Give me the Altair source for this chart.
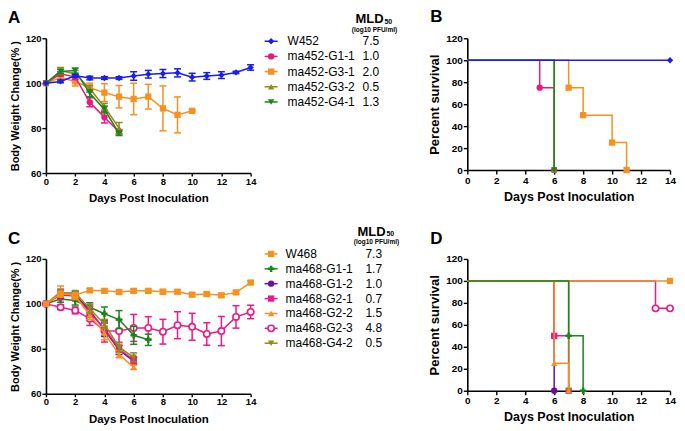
import altair as alt
import pandas as pd

FONT = "Liberation Sans"
DAYS = list(range(15))

# ---------------- Panel A : body weight, 452 group ----------------
A_SERIES = ["W452", "ma452-G1-1", "ma452-G3-1", "ma452-G3-2", "ma452-G4-1"]
A_MLD = ["7.5", "1.0", "2.0", "0.5", "1.3"]
A_COLORS = ["#1a1ee8", "#e8197f", "#f7901e", "#8c8c1e", "#19861b"]
A_SHAPES = ["diamond", "circle", "square", "triangle-up", "triangle-down"]
A_MEAN = {
    "W452": [100, 100.8, 103.3, 102.3, 102.3, 102.3, 103.2, 104.0, 104.3, 104.6, 102.7, 103.2, 103.6, 104.8, 107.0],
    "ma452-G1-1": [100, 104.2, 102.7, 91.5, 84.8, 78.4],
    "ma452-G3-1": [100, 102.5, 100.8, 98.0, 95.8, 94.0, 93.0, 94.0, 88.8, 85.9, 87.7],
    "ma452-G3-2": [100, 105.5, 104.2, 97.5, 89.5, 80.0],
    "ma452-G4-1": [100, 105.2, 105.6, 95.5, 88.3, 77.7],
}
A_ERR = {
    "W452": [0, 0.6, 0.6, 0.8, 0.6, 0.6, 1.9, 1.7, 1.8, 1.8, 1.7, 1.5, 1.5, 0.5, 1.2],
    "ma452-G1-1": [0, 1.0, 1.0, 2.0, 2.5, 1.0],
    "ma452-G3-1": [0, 1.5, 2.0, 2.0, 4.0, 5.0, 7.0, 5.5, 10.0, 8.0, 0.5],
    "ma452-G3-2": [0, 1.5, 1.5, 1.5, 1.5, 2.5],
    "ma452-G4-1": [0, 1.0, 1.2, 1.5, 1.5, 1.0],
}
A_DRAW_ORDER = ["ma452-G3-1", "ma452-G1-1", "ma452-G3-2", "ma452-G4-1", "W452"]

# ---------------- Panel B : survival, 452 group ----------------
B_T = {
    "W452": [0, 14],
    "ma452-G1-1": [0, 5, 6],
    "ma452-G3-1": [0, 7, 8, 10, 11],
    "ma452-G3-2": [0, 6],
    "ma452-G4-1": [0, 6],
}
B_S = {
    "W452": [100, 100],
    "ma452-G1-1": [100, 75, 0],
    "ma452-G3-1": [100, 75, 50, 25, 0],
    "ma452-G3-2": [100, 0],
    "ma452-G4-1": [100, 0],
}
B_DRAW_ORDER = ["ma452-G1-1", "ma452-G3-1", "ma452-G3-2", "ma452-G4-1", "W452"]

# ---------------- Panel C : body weight, 468 group ----------------
C_SERIES = ["W468", "ma468-G1-1", "ma468-G1-2", "ma468-G2-1", "ma468-G2-2", "ma468-G2-3", "ma468-G4-2"]
C_MLD = ["7.3", "1.7", "1.0", "0.7", "1.5", "4.8", "0.5"]
C_COLORS = ["#f7901e", "#19861b", "#6a0fa0", "#ea1a86", "#f7901e", "#ea1a86", "#8c8c1e"]
C_SHAPES = ["square", "cross", "circle", "square", "triangle-up", "circle", "triangle-down"]
C_FILLED = [True, True, True, True, True, False, True]
C_MEAN = {
    "W468": [100, 104.5, 104.0, 106.0, 105.8, 105.3, 105.8, 105.8, 105.4, 105.4, 104.1, 104.4, 103.8, 105.1, 109.5],
    "ma468-G1-1": [100, 102.2, 101.5, 98.5, 95.6, 93.0, 86.0, 84.0],
    "ma468-G1-2": [100, 104.5, 104.0, 97.0, 88.5, 79.5, 74.5],
    "ma468-G2-1": [100, 104.0, 103.5, 96.0, 89.0, 80.0, 75.0],
    "ma468-G2-2": [100, 105.5, 103.5, 95.0, 87.0, 77.5, 71.8],
    "ma468-G2-3": [100, 98.5, 97.1, 93.4, 88.0, 87.9, 89.3, 89.3, 87.6, 90.5, 89.8, 86.6, 87.9, 94.2, 96.4],
    "ma468-G4-2": [100, 104.8, 105.0, 97.8, 91.0, 80.7, 76.2],
}
C_ERR = {
    "W468": [0, 1.0, 1.0, 0.8, 0.8, 0.8, 0.8, 0.8, 1.0, 0.8, 0.8, 0.8, 0.8, 0.8, 0.8],
    "ma468-G1-1": [0, 1.5, 2.0, 2.0, 3.0, 4.0, 4.0, 2.5],
    "ma468-G1-2": [0, 2.0, 1.5, 2.0, 3.0, 2.0, 1.5],
    "ma468-G2-1": [0, 2.0, 1.5, 2.0, 3.0, 1.5, 1.5],
    "ma468-G2-2": [0, 2.5, 1.5, 2.0, 3.0, 1.5, 1.0],
    "ma468-G2-3": [0, 1.0, 1.5, 3.0, 5.0, 5.0, 6.0, 5.0, 5.5, 6.0, 6.0, 5.0, 6.5, 5.0, 3.0],
    "ma468-G4-2": [0, 1.5, 1.0, 2.0, 2.0, 2.0, 2.0],
}
C_DRAW_ORDER = ["ma468-G2-3", "ma468-G1-1", "ma468-G1-2", "ma468-G2-1", "ma468-G2-2", "ma468-G4-2", "W468"]

# ---------------- Panel D : survival, 468 group ----------------
D_T = {
    "W468": [0, 14],
    "ma468-G1-1": [0, 7, 8],
    "ma468-G1-2": [0, 6],
    "ma468-G2-1": [0, 6, 7],
    "ma468-G2-2": [0, 6, 7],
    "ma468-G2-3": [0, 13, 14],
    "ma468-G4-2": [0, 7],
}
D_S = {
    "W468": [100, 100],
    "ma468-G1-1": [100, 50, 0],
    "ma468-G1-2": [100, 0],
    "ma468-G2-1": [100, 50, 0],
    "ma468-G2-2": [100, 25, 0],
    "ma468-G2-3": [100, 75, 75],
    "ma468-G4-2": [100, 0],
}
D_DRAW_ORDER = ["ma468-G2-3", "ma468-G1-2", "ma468-G2-1", "ma468-G4-2", "ma468-G2-2", "W468", "ma468-G1-1"]

# ---------------- layout ----------------
W_WEIGHT = 205
W_SURV = 203
H_WEIGHT = 135
H_SURV = 132
ONE = pd.DataFrame({"k": [0]})


def x_weight(field):
    return alt.X(f"{field}:Q", scale=alt.Scale(domain=[0, 14], nice=False, zero=False),
                 axis=alt.Axis(values=list(range(0, 15, 2)), title="Days Post Inoculation",
                               labelFontSize=9.5, titleFontSize=11.5, tickSize=3, labelPadding=0,
                               titlePadding=7, labelFlush=False))


def y_weight(field):
    return alt.Y(f"{field}:Q", scale=alt.Scale(domain=[60, 120], nice=False, zero=False),
                 axis=alt.Axis(values=[60, 80, 100, 120], title="Body Weight Change(% )",
                               labelFontSize=9.5, titleFontSize=11, tickSize=4, labelPadding=1,
                               titlePadding=5))


def x_surv(field):
    return alt.X(f"{field}:Q", scale=alt.Scale(domain=[0, 14], nice=False, zero=False),
                 axis=alt.Axis(values=list(range(0, 15, 2)), title="Days Post Inoculation",
                               labelFontSize=10, titleFontSize=12.5, tickSize=4, labelPadding=1,
                               titlePadding=5, labelFlush=False))


def y_surv(field):
    return alt.Y(f"{field}:Q", scale=alt.Scale(domain=[0, 120], nice=False, zero=False),
                 axis=alt.Axis(values=[0, 20, 40, 60, 80, 100, 120], title="Percent survival",
                               labelFontSize=10, titleFontSize=13, tickSize=4, labelPadding=1,
                               titlePadding=4))


def text_at(txt, x, y, size, weight="normal", align="left", baseline="middle"):
    return alt.Chart(ONE).mark_text(text=txt, font=FONT, fontSize=size, fontWeight=weight,
                                    align=align, baseline=baseline, color="black").encode(
        x=alt.value(x), y=alt.value(y))


def point_props(shape, color, filled):
    pm = dict(shape=shape, color=color, size=40, opacity=1)
    if filled:
        pm.update(filled=True)
    else:
        pm.update(filled=False, strokeWidth=1.6, fill="white")
    return pm


def weight_panel(series, colors, shapes, filled, means, errs, order, letter, leg):
    layers = []
    for name in order:
        i = series.index(name)
        c = colors[i]
        m = means[name]
        e = errs[name]
        df = pd.DataFrame({"day": DAYS[:len(m)], "mean": m,
                           "lo": [a - b for a, b in zip(m, e)], "hi": [a + b for a, b in zip(m, e)],
                           "err": e})
        dfe = df[df["err"] > 0]
        base = alt.Chart(dfe)
        layers.append(base.mark_rule(color=c, strokeWidth=1.5).encode(
            x=x_weight("day"), y=y_weight("lo"), y2="hi"))
        layers.append(base.mark_tick(color=c, orient="horizontal", size=7, thickness=1.5, opacity=1).encode(
            x=x_weight("day"), y=y_weight("lo")))
        layers.append(base.mark_tick(color=c, orient="horizontal", size=7, thickness=1.5, opacity=1).encode(
            x=x_weight("day"), y=y_weight("hi")))
        layers.append(alt.Chart(df).mark_line(color=c, strokeWidth=1.5).encode(
            x=x_weight("day"), y=y_weight("mean")))
        layers.append(alt.Chart(df).mark_point(**point_props(shapes[i], c, filled[i])).encode(
            x=x_weight("day"), y=y_weight("mean")))

    layers.append(text_at(letter, leg["letter_x"], leg["letter_y"], 17, "bold"))
    layers.append(text_at("MLD", leg["mld_x"], leg["mld_y"], 13, "bold"))
    layers.append(text_at("50", leg["mld_x"] + 29, leg["mld_y"] + 2.5, 7, "bold"))
    layers.append(text_at("(log10 PFU/ml)", leg["mld_x"] + 19, leg["mld_y"] + 10.5, 6.5, "bold",
                          align="center"))
    for r, name in enumerate(series):
        yy = leg["row0"] + r * leg["step"]
        c = colors[r]
        layers.append(alt.Chart(ONE).mark_rule(color=c, strokeWidth=1.5).encode(
            x=alt.value(leg["mx0"]), x2=alt.value(leg["mx1"]), y=alt.value(yy)))
        layers.append(alt.Chart(ONE).mark_point(**point_props(shapes[r], c, filled[r])).encode(
            x=alt.value((leg["mx0"] + leg["mx1"]) / 2), y=alt.value(yy)))
        layers.append(text_at(name, leg["lab_x"], yy, 12))
        layers.append(text_at(leg["mld"][r], leg["val_x"], yy, 12))
    return alt.layer(*layers).properties(width=W_WEIGHT, height=H_WEIGHT)


def surv_panel(series, colors, shapes, filled, ts, ss, order, letter, letter_y):
    layers = []
    for name in order:
        i = series.index(name)
        c = colors[i]
        df = pd.DataFrame({"t": ts[name], "s": ss[name]})
        layers.append(alt.Chart(df).mark_line(color=c, strokeWidth=1.5, interpolate="step-after").encode(
            x=x_surv("t"), y=y_surv("s")))
        layers.append(alt.Chart(df[df["t"] > 0]).mark_point(**point_props(shapes[i], c, filled[i])).encode(
            x=x_surv("t"), y=y_surv("s")))
    layers.append(text_at(letter, -37, letter_y, 17, "bold"))
    return alt.layer(*layers).properties(width=W_SURV, height=H_SURV)


legA = dict(letter_x=-38, letter_y=-20, mld_x=310, mld_y=-19, row0=3, step=15.2,
            mx0=219, mx1=232, lab_x=242, val_x=317, mld=A_MLD)
legC = dict(letter_x=-38, letter_y=-20, mld_x=312, mld_y=-27, row0=-5, step=14.9,
            mx0=219, mx1=232, lab_x=240, val_x=320, mld=C_MLD)

A_FILLED = [True] * 5
panelA = weight_panel(A_SERIES, A_COLORS, A_SHAPES, A_FILLED, A_MEAN, A_ERR, A_DRAW_ORDER, "A", legA)
panelB = surv_panel(A_SERIES, A_COLORS, A_SHAPES, A_FILLED, B_T, B_S, B_DRAW_ORDER, "B", -21)
panelC = weight_panel(C_SERIES, C_COLORS, C_SHAPES, C_FILLED, C_MEAN, C_ERR, C_DRAW_ORDER, "C", legC)
panelD = surv_panel(C_SERIES, C_COLORS, C_SHAPES, C_FILLED, D_T, D_S, D_DRAW_ORDER, "D", -20)

chart = alt.concat(panelA, panelB, panelC, panelD, columns=2,
                   spacing={"row": 86, "column": 217}, bounds="flush").properties(
    padding=0, background="white"
).configure_view(stroke=None).configure_axis(
    grid=False, domainColor="black", domainWidth=1.6, tickColor="black", tickWidth=1.4,
    labelColor="black", titleColor="black", labelFont=FONT, titleFont=FONT,
    labelFontWeight="bold", titleFontWeight="bold"
)

chart.save("out.html", embed_options={"renderer": "svg", "actions": False})
